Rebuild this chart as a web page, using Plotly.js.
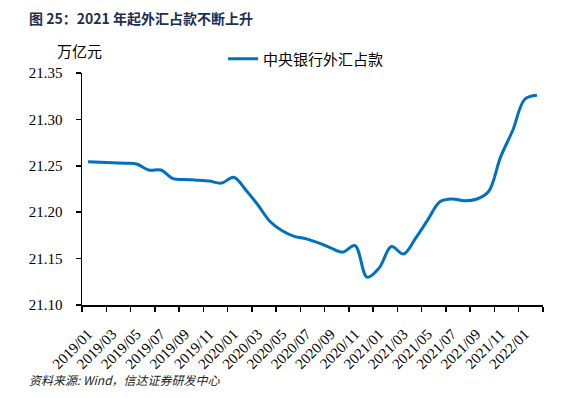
<!DOCTYPE html>
<html>
<head>
<meta charset="utf-8">
<script src="https://cdn.plot.ly/plotly-3.0.1.min.js"></script>
<style>
html,body{margin:0;padding:0;background:#fff;}
#chart{width:564px;height:398px;}
</style>
</head>
<body>
<div id="chart"></div>
<script>
const months = ["2019/01","2019/02","2019/03","2019/04","2019/05","2019/06","2019/07","2019/08","2019/09","2019/10","2019/11","2019/12",
"2020/01","2020/02","2020/03","2020/04","2020/05","2020/06","2020/07","2020/08","2020/09","2020/10","2020/11","2020/12",
"2021/01","2021/02","2021/03","2021/04","2021/05","2021/06","2021/07","2021/08","2021/09","2021/10","2021/11","2021/12",
"2022/01","2022/02"];
const reserves = [21.2543,21.2538,21.2533,21.2527,21.2520,21.2455,21.2455,21.2362,21.2352,21.2345,21.2335,21.2314,
21.2376,21.2240,21.2078,21.1900,21.1800,21.1740,21.1713,21.1670,21.1616,21.1570,21.1640,21.1300,
21.1400,21.1630,21.1550,21.1720,21.1917,21.2113,21.2143,21.2124,21.2140,21.2220,21.2594,21.2880,
21.3217,21.3260];
const yTicks = [21.10,21.15,21.20,21.25,21.30,21.35];
const seriesName = "中央银行外汇占款";
const titleText = "图 25：2021 年起外汇占款不断上升";
const unitText = "万亿元";
const sourceText = "资料来源: Wind，信达证券研发中心";

const idx = months.map((m,i)=>i);
const labelIdx = idx.filter(i=>i%2===0);
const labelText = labelIdx.map(i=>months[i]);

const trace = {
  x: idx, y: reserves, type: 'scatter', mode: 'lines', name: seriesName,
  line: {color: '#0070C0', width: 3, shape: 'spline', smoothing: 1},
  hoverinfo: 'skip'
};

const tickFont = {family: 'Liberation Serif', size: 15, color: '#000'};

const layout = {
  width: 564, height: 398,
  margin: {l: 82, r: 21, t: 73, b: 93},
  paper_bgcolor: '#fff', plot_bgcolor: '#fff',
  showlegend: true,
  legend: {
    x: 0.306, xanchor: 'left', y: 1.06, yanchor: 'middle',
    orientation: 'h', itemwidth: 30,
    font: {family: 'Noto Sans CJK SC', size: 15, color: '#000'},
    bgcolor: 'rgba(0,0,0,0)'
  },
  xaxis: {
    range: [-0.5, 37.5], showgrid: false, zeroline: false,
    showline: true, linecolor: '#000', linewidth: 1.5,
    tickmode: 'array', tickvals: labelIdx, ticktext: labelText,
    ticks: '', ticklen: 0, tickangle: -45, tickfont: tickFont,
    ticklabelstandoff: 13,
    minor: {tick0: -0.5, dtick: 2, ticks: 'outside', ticklen: 5, tickwidth: 1.5, tickcolor: '#000', showgrid: false}
  },
  yaxis: {
    range: [21.10, 21.35], showgrid: false, zeroline: false,
    showline: true, linecolor: '#000', linewidth: 1.5,
    tickmode: 'array', tickvals: yTicks, ticktext: yTicks.map(v=>v.toFixed(2)),
    ticks: 'outside', ticklen: 5, tickwidth: 1.5, tickcolor: '#000',
    tickfont: tickFont, ticklabelstandoff: 10
  },
  annotations: [
    {text: '<b>' + titleText + '</b>', xref: 'paper', yref: 'paper', x: -0.119, y: 1 + (72.7-18)/232.6,
     xanchor: 'left', yanchor: 'middle', showarrow: false,
     font: {family: 'Noto Sans CJK SC', size: 14, color: '#1B2F55'}},
    {text: unitText, xref: 'paper', yref: 'paper', x: (55-82)/461, y: 1 + (72.7-50)/232.6,
     xanchor: 'left', yanchor: 'middle', showarrow: false,
     font: {family: 'Noto Sans CJK SC', size: 15, color: '#000'}},
    {text: '<i>' + sourceText + '</i>', xref: 'paper', yref: 'paper', x: (27-82)/461, y: -(380-305.3)/232.6,
     xanchor: 'left', yanchor: 'middle', showarrow: false,
     font: {family: 'Noto Sans CJK SC', size: 12, color: '#222'}}
  ]
};

Plotly.newPlot('chart', [trace], layout, {displayModeBar: false, staticPlot: true});
</script>
</body>
</html>
